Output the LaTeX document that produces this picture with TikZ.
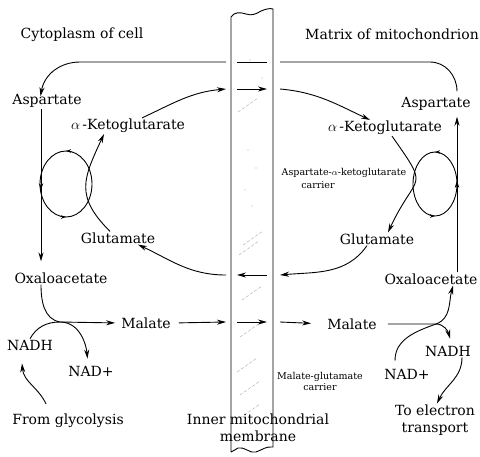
\documentclass[tikz,border=0pt]{standalone}
\usepackage{fontspec}
\setmainfont{DejaVu Serif}
\usetikzlibrary{arrows.meta, positioning, calc, decorations.markings}

\begin{document}
\begin{tikzpicture}[x=1pt, y=1pt,
    lbl/.style={font=\fontsize{14}{17}\selectfont, inner sep=1pt},
    tinylbl/.style={font=\fontsize{9.5}{11}\selectfont, inner sep=1pt, align=center},
    flow/.style={line width=0.9pt},
    arr/.style={flow, -{Stealth[length=9pt, width=5pt]}},
    midarr/.style={postaction={decorate}, decoration={markings,
        mark=at position #1 with {\arrow{Stealth[length=7pt, width=4.5pt]}}}},
    loopmarks/.style={postaction={decorate}, decoration={markings,
        mark=at position 0.25 with {\arrow{Stealth[length=5pt, width=3.5pt]}},
        mark=at position 0.75 with {\arrow{Stealth[length=5pt, width=3.5pt]}}}},
    hatch/.style={gray!60, line width=0.5pt, dash pattern=on 3pt off 2pt}
]
    \useasboundingbox (0,0) rectangle (480,-456);

    % 内膜
    \draw[line width=0.9pt] (231,-452) -- (231,-17)
        .. controls (234,-12) and (240,-12) .. (246,-14)
        .. controls (252,-16) and (256,-14) .. (261,-11)
        .. controls (266,-9) and (270,-8) .. (273,-9) -- (273,-447)
        .. controls (266,-446) and (262,-450) .. (256,-452)
        .. controls (250,-454) and (244,-446) .. (238,-448)
        .. controls (235,-449) and (233,-452) .. (231,-452);
    \foreach \x/\y in {243/245, 239/255, 242/300, 240/337, 237/372, 240/395, 240/418, 238/112}
        \draw[hatch] (\x,-\y) -- ++(20,14);
    \foreach \x/\y in {248/150, 256/168, 245/190, 252/206, 250/60, 262/78}
        \fill[gray!60] (\x,-\y) circle (0.6);

    % 文字
    \node[lbl] (cyto) at (82,-35) {Cytoplasm of cell};
    \node[lbl] (matrix) at (392,-34) {Matrix of mitochondrion};
    \node[lbl] (aspL) at (47,-101) {Aspartate};
    \node[lbl] (akgL) at (128,-126) {$\alpha$\,-Ketoglutarate};
    \node[lbl] (gluL) at (118,-238) {Glutamate};
    \node[lbl] (oaaL) at (61,-278) {Oxaloacetate};
    \node[lbl] (malL) at (146,-323) {Malate};
    \node[lbl] (nadhL) at (30,-345) {NADH};
    \node[lbl] (nadL) at (91,-371) {NAD+};
    \node[lbl] (glyco) at (68,-421) {From glycolysis};
    \node[lbl, align=center] (imm) at (258,-428) {Inner mitochondrial\\membrane};
    \node[lbl] (aspR) at (436,-104) {Aspartate};
    \node[lbl] (akgR) at (385,-128) {$\alpha$\,-Ketoglutarate};
    \node[tinylbl] (carA) at (344,-173) {Aspartate-$\alpha$-ketoglutarate};
    \node[tinylbl] (carA2) at (318,-185) {carrier};
    \node[lbl] (gluR) at (377,-239) {Glutamate};
    \node[lbl] (oaaR) at (431,-279) {Oxaloacetate};
    \node[lbl] (malR) at (352,-324) {Malate};
    \node[lbl] (nadhR) at (448,-351) {NADH};
    \node[lbl] (nadR) at (407,-374) {NAD+};
    \node[lbl, align=center] (elec) at (435,-420) {To electron\\transport};
    \node[tinylbl] (carM) at (320,-381) {Malate-glutamate\\carrier};

    % 穿膜点
    \foreach \r/\y in {t/62, b/89, g/275, m/322} {
        \coordinate (\r1) at (226,-\y);
        \coordinate (\r2) at (237,-\y);
        \coordinate (\r3) at (267,-\y);
        \coordinate (\r4) at (280,-\y);
    }
    \coordinate (lv) at (41,0);
    \coordinate (rv) at (457,0);
    \coordinate (jL) at (60,-322);
    \coordinate (jR) at (436,-324);

    % 天冬氨酸
    \draw[arr, shorten >=-3pt] (t1) -- (80,-62) to[out=180,in=80] (aspL.north -| lv);
    \draw[flow] (t2) -- (t3);
    \draw[flow] (t4) -- (430,-62) to[out=0,in=90] ([yshift=5pt]aspR.north -| rv);

    % α-酮戊二酸
    \draw[arr] ([xshift=14pt]akgL.north) to[out=25,in=185] (b1);
    \draw[arr] (b2) -- (b3);
    \draw[arr] (b4) to[out=-5,in=155] ([xshift=-15pt]akgR.north);

    % 谷氨酸
    \draw[arr] ([xshift=-10pt]gluR.south) to[out=-125,in=5] (g4);
    \draw[arr] (g3) -- (g2);
    \draw[arr] (g1) to[out=180,in=-25] ([xshift=20pt]gluL.south);

    % 苹果酸
    \draw[arr, shorten <=7pt] (malL.east) -- (m1);
    \draw[arr] (m2) -- (m3);
    \draw[arr, shorten >=15pt] (m4) -- (malR.west);

    % 转氨循环
    \draw[arr, midarr=0.5, shorten >=10pt] (aspL.south -| lv) -- (oaaL.north -| lv);
    \draw[arr, midarr=0.57, shorten >=5pt] (oaaR.north -| rv) -- (aspR.south -| rv);
    \draw[flow, loopmarks] (66,-184) ellipse [x radius=26, y radius=33];
    \draw[flow, loopmarks] (435,-184) ellipse [x radius=22, y radius=32];
    \draw[arr] ([xshift=-8pt]gluL.north) to[out=135,in=-115,looseness=1.3] ([xshift=-24pt]akgL.south);
    \draw[arr] ([xshift=7pt]akgR.south) to[out=-55,in=65,looseness=1.8] ([xshift=11pt]gluR.north);

    % 胞质侧反应
    \draw[arr, shorten >=5pt] (oaaL.south -| lv) to[out=-90,in=170] (jL) -- (malL.west);
    \draw[arr, shorten >=6pt] (nadhL.north) to[out=60,in=180] (jL) to[out=0,in=95] ([xshift=-3pt]nadL.north);
    \draw[arr] ([xshift=-22pt,yshift=9pt]glyco.north) to[out=115,in=-85] ([xshift=-8pt,yshift=-12pt]nadhL.south);

    % 基质侧反应
    \draw[arr, shorten <=10pt] (malR.east) -- (jR) to[out=0,in=105] ([xshift=2pt,yshift=6pt]nadhR.north);
    \draw[arr] ([xshift=-12pt,yshift=7pt]nadR.north) to[out=90,in=200] (jR) to[out=20,in=-105] ([xshift=22pt]oaaR.south);
    \draw[arr] ([xshift=14pt]nadhR.south) to[out=-90,in=65] ([xshift=2pt]elec.north);
\end{tikzpicture}
\end{document}
